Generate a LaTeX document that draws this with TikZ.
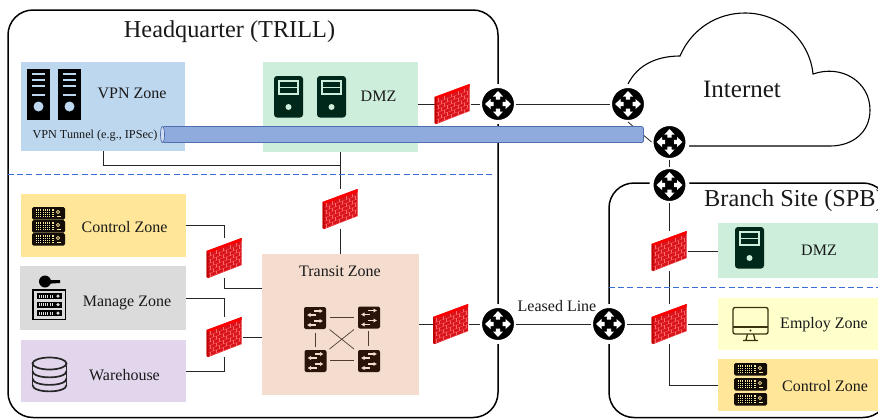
\documentclass[tikz,border=0pt]{standalone}
\usepackage{fontspec}
\setmainfont{Liberation Serif}
\usetikzlibrary{arrows.meta}
\definecolor{vpnc}{HTML}{BDD7EE}
\definecolor{dmzc}{HTML}{CDEEDB}
\definecolor{ctlc}{HTML}{FFE699}
\definecolor{mgtc}{HTML}{DBDBDB}
\definecolor{whc}{HTML}{E2D6EC}
\definecolor{trc}{HTML}{F4DDCF}
\definecolor{empc}{HTML}{FFFFCC}
\definecolor{tubec}{HTML}{8FAADC}
\definecolor{tubeb}{HTML}{4F70AE}
\definecolor{dashc}{HTML}{3A6FD8}
\definecolor{darkg}{HTML}{00281A}
\definecolor{darkb}{HTML}{2A140A}
\definecolor{wallc}{HTML}{D8141C}
\definecolor{monc}{HTML}{3B3210}
\tikzset{
 zone/.style={inner sep=0pt,outer sep=0pt},
 site/.style={draw=black,line width=1.5pt,rounded corners=25pt},
 link/.style={draw=black!85,line width=0.8pt},
 sep/.style={draw=dashc,line width=1.6pt,dash pattern=on 6pt off 3.2pt},
 routerc/.style={circle,fill=black,draw=white,line width=4pt,minimum size=36pt,inner sep=0pt,outer sep=0pt},
 fwbox/.style={inner sep=0pt,outer sep=0pt,minimum width=36pt,minimum height=40pt},
 lab/.style={inner sep=0pt,font=\fontsize{16}{18}\selectfont,text=black!90},
 big/.style={inner sep=0pt,font=\fontsize{24.3}{28}\selectfont,text=black!90},
}
\newcommand{\routerglyph}[2]{%
 \begin{scope}[shift={(#1,#2)}]
  \foreach \a in {0,90,180,270}{
   \fill[white,rotate=\a] (4.5,-2.1) -- (7.5,-2.1) -- (7.5,-5.2) -- (12.8,0) -- (7.5,5.2) -- (7.5,2.1) -- (4.5,2.1) -- cycle;
  }
 \end{scope}}
\newcommand{\fwglyph}[2]{%
 \begin{scope}[shift={(#1,#2)}]
  \fill[wallc] (-18,-7) -- (17,-20) -- (17,7) -- (-16,20) -- (-18,19) -- cycle;
  \fill[red] (-18,-7) -- (-16,-5) -- (17,-17) -- (17,-20) -- cycle;
  \fill[red!75!black] (-18,-7) -- (-16,-5) -- (-16,20) -- (-18,19) -- cycle;
  \foreach \r in {1,...,7}{
   \draw[white!40!red,line width=.25pt] (-16,-5+3.45*\r) -- (17,-17+3.45*\r);
  }
  \foreach \r in {0,...,6}{
   \pgfmathsetmacro{\off}{mod(\r,2)*3}
   \foreach \c in {0,1,2,3,4}{
    \pgfmathsetmacro{\xx}{-14.5+\off+\c*6.6}
    \pgfmathsetmacro{\yy}{-5+3.45*\r-(\xx+16)*0.364}
    \draw[white!40!red,line width=.25pt] (\xx,\yy) -- (\xx,\yy+3.45);
   }
  }
 \end{scope}}
\newcommand{\blacktower}[2]{%
 \begin{scope}[shift={(#1,#2)}]
  \fill[black] (0,0) rectangle (23,51);
  \foreach \y in {4,10,16,25}{\fill[vpnc] (5,\y) rectangle (18,\y+2);}
  \fill[vpnc] (11.5,37.5) circle (5);
 \end{scope}}
\newcommand{\greentower}[2]{%
 \begin{scope}[shift={(#1,#2)}]
  \fill[darkg,rounded corners=3pt] (0,0) rectangle (29,41.5);
  \draw[dmzc,line width=1.2pt] (5,5) rectangle (24,18);
  \draw[dmzc,line width=1.2pt] (5,11.5) -- (24,11.5);
  \fill[dmzc] (14.5,31) circle (3);
 \end{scope}}
\newcommand{\rackunit}[2]{%
 \begin{scope}[shift={(#1,#2)}]
  \fill[black!90!brown] (0,1.5) -- (1.5,0) -- (31.5,0) -- (33,1.5) -- (33,11) -- (31.5,12.5) -- (1.5,12.5) -- (0,11) -- cycle;
  \fill[ctlc] (3.5,2.2) rectangle (21.5,10.2);
  \foreach \x in {5.3,7.1,...,21}{\draw[black,line width=.5pt] (\x,2.2) -- (\x,10.2);}
  \foreach \y in {4.2,6.2,8.2}{\draw[black,line width=.5pt] (3.5,\y) -- (21.5,\y);}
  \draw[ctlc,line width=.7pt] (26,5) circle (1.7);
  \draw[ctlc,line width=.7pt] (25,9.7) -- (29,9.7);
 \end{scope}}
\newcommand{\switchat}[2]{%
 \begin{scope}[shift={(#1,#2)}]
  \fill[darkb,rounded corners=2pt] (-11,-11) rectangle (11,11);
  \foreach \y in {-5,5}{
   \draw[trc,line width=1.1pt,-{Latex[length=3.5pt,width=4.5pt]}] (-1,\y-2) -- (8,\y-2);
   \draw[trc,line width=1.1pt,-{Latex[length=3.5pt,width=4.5pt]}] (1,\y+2) -- (-8,\y+2);
  }
 \end{scope}}
\newcommand{\miniunit}[2]{%
 \begin{scope}[shift={(#1,#2)}]
  \fill[black] (0,0) rectangle (25,6.2);
  \fill[mgtc] (1.8,1.6) rectangle (16,4.6);
  \foreach \x in {3.6,5.4,...,15}{\draw[black,line width=.4pt] (\x,1.6) -- (\x,4.6);}
  \fill[mgtc] (21,3.1) circle (1.8);
 \end{scope}}
\begin{document}
\begin{tikzpicture}[x=1pt,y=-1pt]
\useasboundingbox (0,0) rectangle (878,418);
\clip (0,0) rectangle (878,418);
% site frames
\draw[site] (8,10) rectangle (498,417.5);
\draw[site] (609,183) rectangle (888,417.5);
% cloud
\coordinate (cloudend) at (669.5,146);
\draw[line width=1.1pt] (628,84) .. controls (638,64) and (658,56) .. (680,56)
  .. controls (692,28) and (718,13) .. (745,13)
  .. controls (782,13) and (810,42) .. (813,74)
  .. controls (842,64) and (870,82) .. (870,110)
  .. controls (870,132) and (853,146) .. (830,146) -- (cloudend);
% zones
\node[zone,fill=vpnc,minimum width=164pt,minimum height=89pt] (vpn) at (103,106.5) {};
\node[zone,fill=dmzc,minimum width=155pt,minimum height=90pt] (dmz) at (340.5,107) {};
\node[zone,fill=ctlc,minimum width=165pt,minimum height=63pt] (ctl) at (103.5,225.5) {};
\node[zone,fill=mgtc,minimum width=166pt,minimum height=64pt] (mgt) at (103,298) {};
\node[zone,fill=whc,minimum width=165pt,minimum height=62pt] (wh) at (103.5,371) {};
\node[zone,fill=trc,minimum width=157pt,minimum height=141pt] (tr) at (340.5,324) {};
\node[zone,fill=dmzc,minimum width=170pt,minimum height=55pt] (bdmz) at (803,250.5) {};
\node[zone,fill=empc,minimum width=170pt,minimum height=52pt] (emp) at (803,324) {};
\node[zone,fill=ctlc,minimum width=170pt,minimum height=52pt] (bctl) at (803,385) {};
% nodes for firewalls
\node[fwbox] (fwtop) at (340.5,209) {};
\node[fwbox] (fwa) at (224.5,258) {};
\node[fwbox] (fwb) at (224.5,337) {};
\node[fwbox] (fwd) at (452.5,104) {};
\node[fwbox] (fwt) at (451,324) {};
\node[fwbox] (fwu) at (669.5,251) {};
\node[fwbox] (fwl) at (669.5,324) {};
% connectors
\coordinate (vj) at (340.5,165);
\draw[link] (vpn.south) |- (vj);
\draw[link] (dmz.south) -- (fwtop.north);
\draw[link] (fwtop.south) -- (tr.north);
\draw[link] (ctl.east) -| (fwa.north);
\draw[link] (fwa.south) |- ([yshift=36pt]tr.west);
\draw[link] (mgt.east) -| (fwb.north);
\draw[link] (wh.east) -| (fwb.south);
\draw[link] (fwb.east) -- (fwb.east -| tr.west);
\draw[link] (fwd.west -| dmz.east) -- (fwd.west);
\draw[link] (tr.east) -- (fwt.west);
\draw[link] (fwu.east) -- (fwu.east -| bdmz.west);
\draw[link] (fwl.east) -- (emp.west);
\draw[link] (fwl.south) |- (bctl.west);
\draw[link] (fwu.south) -- (fwl.north);
% separators
\coordinate (sepa) at (8,174.5);
\coordinate (sepb) at (495,174.5);
\coordinate (sepc) at (609,287.5);
\coordinate (sepd) at (878,287.5);
\draw[sep] (sepa) -- (sepb);
\draw[sep] (sepc) -- (sepd);
% routers
\node[routerc] (ra) at (498,104) {};
\node[routerc] (rb) at (498,324) {};
\node[routerc] (rc) at (628,104) {};
\node[routerc] (rd) at (669.5,142) {};
\node[routerc] (re) at (669.5,185) {};
\node[routerc] (rf) at (609,324) {};
\draw[link] (fwd.east) -- (ra.west);
\draw[link] (ra.east) -- (rc.west);
\draw[link] (fwt.east) -- (rb.west);
\draw[link] (rb.east) -- (rf.west);
\draw[link] (rc.south) -- (rd.west);
\draw[link] (rd.south) -- (re.north);
\draw[link] (re.south) -- (fwu.north);
\draw[link] (rf.east) -- (fwl.west);
% tunnel
\node[zone,draw=tubeb,line width=.7pt,fill=tubec,rounded corners=1.5pt,minimum width=481pt,minimum height=16pt] (tube) at (403,134.5) {};
\draw[tubeb,line width=.7pt,fill=tubec!40!white] (tube.west) ellipse (2pt and 8pt);
% router glyphs
\routerglyph{498}{104}
\routerglyph{498}{324}
\routerglyph{628}{104}
\routerglyph{669.5}{142}
\routerglyph{669.5}{185}
\routerglyph{609}{324}
% firewall glyphs
\fwglyph{340.5}{209}
\fwglyph{224.5}{258}
\fwglyph{224.5}{337}
\fwglyph{452.5}{104}
\fwglyph{451}{324}
\fwglyph{669.5}{251}
\fwglyph{669.5}{324}
% icons
\blacktower{27}{69}
\blacktower{58}{69}
\greentower{274}{76}
\greentower{317}{76}
\greentower{735}{227}
\rackunit{32}{207}\rackunit{32}{220}\rackunit{32}{233}
\rackunit{734}{363}\rackunit{734}{378}\rackunit{734}{393}
% key and rack
\fill[black] (45,281.5) circle (6);
\fill[black] (48,280.2) -- (60,280.2) -- (60,283) -- (52,283.5) -- (48,283.5) -- cycle;
\draw[black,line width=1.8pt] (33,290) rectangle (65.5,319.5);
\miniunit{37}{293}\miniunit{37}{301.5}\miniunit{37}{310}
% database
\begin{scope}[shift={(49.5,0)},draw=black!85,line width=1.7pt]
 \draw (0,363.5) ellipse (17 and 6);
 \draw (-17,363.5) -- (-17,385);
 \draw (17,363.5) -- (17,385);
 \draw (-17,385) .. controls (-17,393.5) and (17,393.5) .. (17,385);
 \draw (-17,371) .. controls (-17,379.5) and (17,379.5) .. (17,371);
 \draw (-17,378.5) .. controls (-17,387) and (17,387) .. (17,378.5);
\end{scope}
% monitor
\draw[monc,line width=1.3pt,rounded corners=2pt] (733,307.5) rectangle (768,334);
\draw[monc,line width=1.3pt] (733,327) -- (768,327);
\fill[monc] (750.5,330.5) circle (1.2);
\draw[monc,line width=1.3pt] (747.5,334) -- (746,340) (753.5,334) -- (755,340) (743,340.5) -- (758,340.5);
% switches
\switchat{315}{318}\switchat{369}{317.5}\switchat{315.5}{361}\switchat{369}{361}
\draw[darkb!80!trc,line width=.9pt] (329.5,317.5) -- (354,317.5) (330,360.5) -- (354,360.5) (315,332.5) -- (315,346.5) (368.5,331) -- (368.5,346);
\draw[darkb!80!trc,line width=.7pt] (329.5,329.5) -- (354,349) (329.5,349) -- (354,329.5);
% texts
\node[big] (thq) at (229.5,32) {Headquarter (TRILL)};
\node[inner sep=0pt,font=\fontsize{25}{28}\selectfont,text=black!90] (tint) at (742,89) {Internet};
\node[big,anchor=west] (tbr) at (704,201) {Branch Site (SPB)};
\node[lab] (tvpn) at (132,93) {VPN Zone};
\node[inner sep=0pt,font=\fontsize{12.2}{14}\selectfont,text=black!90] (ttun) at (95,136) {VPN Tunnel (e.g., IPSec)};
\node[lab] (tdmz) at (378.5,96) {DMZ};
\node[lab] (tctl) at (124.5,227) {Control Zone};
\node[lab] (tmgt) at (127,303) {Manage Zone};
\node[lab] (twh) at (124.5,375) {Warehouse};
\node[lab] (ttr) at (340,271) {Transit Zone};
\node[inner sep=0pt,font=\fontsize{16}{18}\selectfont,text=black!90] (tlease) at (557,306) {Leased Line};
\node[lab] (tbd) at (819,250) {DMZ};
\node[lab] (temp) at (824,325) {Employ Zone};
\node[lab] (tbc) at (825,386) {Control Zone};
\end{tikzpicture}
\end{document}
